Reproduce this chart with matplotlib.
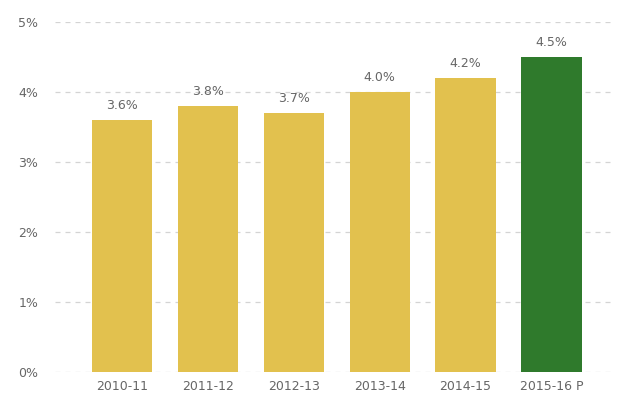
import matplotlib
matplotlib.use("Agg")
import matplotlib.pyplot as plt

years = ["2010-11", "2011-12", "2012-13", "2013-14", "2014-15", "2015-16 P"]
values = [3.6, 3.8, 3.7, 4.0, 4.2, 4.5]
labels = ["3.6%", "3.8%", "3.7%", "4.0%", "4.2%", "4.5%"]
yticks = [0, 1, 2, 3, 4, 5]
ytick_labels = ["0%", "1%", "2%", "3%", "4%", "5%"]

yellow = "#E2C14E"
green = "#2F7A2C"
colors = [yellow] * 5 + [green]

fig = plt.figure(figsize=(6.2, 4.03), dpi=100)
ax = fig.add_axes([55 / 620, 31 / 403, 560 / 620, 350 / 403])

x = list(range(len(years)))
ax.set_axisbelow(True)
ax.yaxis.grid(True, linestyle=(0, (4, 4)), color="#D4D4D4", linewidth=0.9)
ax.bar(x, values, width=0.7, color=colors)

for xi, v, lab in zip(x, values, labels):
    ax.text(xi, v + 0.12, lab, ha="center", va="bottom", fontsize=9, color="#666666")

ax.set_xlim(-0.78, 5.74)
ax.set_ylim(0, 5)
ax.set_xticks(x)
ax.set_xticklabels(years, fontsize=9, color="#666666")
ax.set_yticks(yticks)
ax.set_yticklabels(ytick_labels, fontsize=9, color="#666666")
ax.tick_params(axis="both", length=0, pad=6)
ax.tick_params(axis="y", pad=12)
for s in ax.spines.values():
    s.set_visible(False)

fig.savefig("out.png", dpi=100)
